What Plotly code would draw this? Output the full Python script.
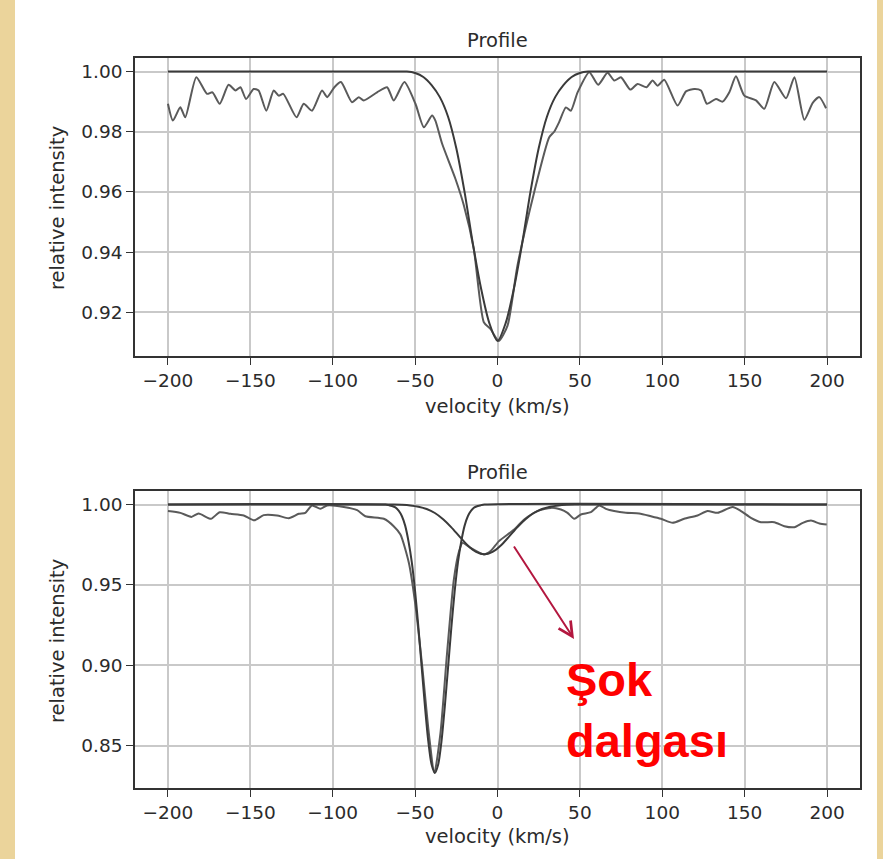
import plotly.graph_objects as go

W, H = 883, 859

# ---------------- data: top panel ----------------
top_obs_v = [-200, -197, -192.5, -189.5, -182.8, -176.3, -173, -168.6, -163.2, -159, -156, -152.6,
             -148, -145, -140.3, -135.8, -132.8, -130, -122, -117.6, -112.6, -106.5, -103.4, -99,
             -95, -88.3, -84.2, -81.2, -73.1, -67, -63, -56.5, -49.8, -44.7, -39.7, -37.7, -33.6,
             -25.5, -20.4, -14.4, -8.3, -4.3, 0.8, 6.1, 12.1, 22.3, 31.4, 34.4, 37.4, 41.5, 44.5,
             48.6, 55.7, 61.1, 66.8, 70.9, 74.9, 80.6, 85, 90.5, 94.1, 97.2, 101.2, 109.3, 114.4,
             119.4, 123.5, 127.1, 132.6, 136.6, 140.7, 144.7, 149.8, 156.9, 161.9, 168, 175.1,
             180.2, 186.2, 191.3, 195.3, 199.4]
top_obs_i = [0.9893, 0.9837, 0.9881, 0.9848, 0.9981, 0.9926, 0.9931, 0.9893, 0.9956, 0.9937, 0.9948,
             0.9909, 0.9942, 0.9937, 0.9870, 0.9937, 0.9920, 0.9926, 0.9848, 0.9893, 0.9870, 0.9937,
             0.9915, 0.9948, 0.9965, 0.9898, 0.9915, 0.9904, 0.9931, 0.9948, 0.9904, 0.9965, 0.9893,
             0.9815, 0.9854, 0.9837, 0.9760, 0.9643, 0.9555, 0.9411, 0.9167, 0.9145, 0.9105, 0.9156,
             0.9355, 0.9600, 0.9782, 0.9800, 0.9832, 0.9881, 0.9870, 0.9931, 0.9998, 0.9956, 0.9996,
             0.9970, 0.9981, 0.9940, 0.9959, 0.9948, 0.9970, 0.9953, 0.9973, 0.9887, 0.9934, 0.9942,
             0.9937, 0.9893, 0.9909, 0.9900, 0.9931, 0.9984, 0.9920, 0.9904, 0.9876, 0.9965, 0.9911,
             0.9981, 0.9840, 0.9896, 0.9915, 0.9878]

top_fit_v = [-200, -60, -55, -50, -45, -40, -35, -30, -25, -20, -15, -10, -5, 0,
             5, 10, 15, 20, 25, 30, 35, 40, 45, 50, 55, 60, 200]
top_fit_i = [1.0, 1.0, 1.0, 0.9995, 0.9982, 0.9955, 0.9915, 0.9850, 0.9745, 0.9600, 0.9430, 0.9280,
             0.9165, 0.9105, 0.9165, 0.9280, 0.9430, 0.9600, 0.9745, 0.9850, 0.9915, 0.9955, 0.9982,
             0.9995, 1.0, 1.0, 1.0]

# ---------------- data: bottom panel ----------------
bot_obs_v = [-200, -192.5, -185.8, -181.4, -173.9, -168.6, -162.1, -154, -147.6, -141.9, -133.8,
             -126.7, -120.6, -116.6, -112.6, -107.5, -103.4, -93.3, -85.2, -80.2, -69, -63, -58.9,
             -53.8, -50, -45.7, -41.7, -38.3, -34.6, -30.6, -26.5, -23.3, -21.2, -16.4, -8.3, -4.2,
             0.9, 10.1, 16.2, 24.3, 32.4, 38.5, 42.5, 46.6, 50.6, 56.7, 61.7, 65.8, 70.8, 77.9, 86,
             93.1, 99.2, 106.3, 113.3, 121.4, 127.5, 133.6, 142.7, 147.8, 153.8, 159.9, 168, 174.1,
             180.2, 185.3, 190.3, 195.4, 199.8]
bot_obs_i = [0.9959, 0.9948, 0.9923, 0.9944, 0.9911, 0.9952, 0.9942, 0.9932, 0.9902, 0.9934, 0.9932,
             0.9915, 0.9942, 0.9948, 0.9994, 0.9973, 0.9994, 0.9985, 0.9965, 0.9927, 0.9911, 0.9865,
             0.9813, 0.9637, 0.9388, 0.8994, 0.8579, 0.8330, 0.8579, 0.9077, 0.9533, 0.9710, 0.9761,
             0.9730, 0.9689, 0.9710, 0.9772, 0.9844, 0.9907, 0.9959, 0.9979, 0.9969, 0.9948, 0.9911,
             0.9938, 0.9952, 0.9994, 0.9973, 0.9959, 0.9948, 0.9944, 0.9927, 0.9911, 0.9886, 0.9911,
             0.9932, 0.9959, 0.9948, 0.9985, 0.9959, 0.9917, 0.9890, 0.9890, 0.9865, 0.9859, 0.9886,
             0.9900, 0.9882, 0.9876]

narrow_v = [-200, -68, -66, -64, -62, -60, -58, -56, -54, -52, -50, -48, -46, -44, -42, -40, -38,
            -36, -34, -32, -30, -28, -26, -24, -22, -20, -18, -16, -14, -12, -10, -8, 200]
narrow_i = [1.0, 1.0, 0.9996, 0.9991, 0.9982, 0.9962, 0.9927, 0.9867, 0.9770, 0.9640, 0.9460, 0.9235,
            0.8987, 0.8740, 0.8526, 0.8382, 0.8330, 0.8382, 0.8526, 0.8740, 0.8987, 0.9235, 0.9460,
            0.9640, 0.9770, 0.9867, 0.9927, 0.9962, 0.9982, 0.9991, 0.9996, 1.0, 1.0]

broad_v = [-200, -63, -58, -53, -48, -43, -38, -33, -28, -23, -18, -13, -8, -3, 2, 7, 12, 17, 22,
           27, 32, 37, 42, 47, 200]
broad_i = [1.0, 1.0, 0.9998, 0.9994, 0.9986, 0.9972, 0.9947, 0.9908, 0.9858, 0.9800, 0.9745, 0.9705,
           0.9690, 0.9705, 0.9745, 0.9800, 0.9858, 0.9908, 0.9947, 0.9972, 0.9986, 0.9994, 0.9998,
           1.0, 1.0]

# ---------------- ticks / labels ----------------
x_tickvals = [-200, -150, -100, -50, 0, 50, 100, 150, 200]
x_ticktext = ["\u2212200", "\u2212150", "\u2212100", "\u221250", "0", "50", "100", "150", "200"]
top_y_tickvals = [0.92, 0.94, 0.96, 0.98, 1.00]
bot_y_tickvals = [0.85, 0.90, 0.95, 1.00]
panel_title = "Profile"
x_title = "velocity (km/s)"
y_title = "relative intensity"
note_text = "Şok<br>dalgası"

FIT = "#3a3a3a"
OBS = "#5a5a5a"
TXT = "#2b2b2b"
FONT = "DejaVu Sans"
FS_TICK = 18.5
FS_LAB = 19.5

fig = go.Figure()
fig.add_trace(go.Scatter(x=top_obs_v, y=top_obs_i, mode="lines", xaxis="x", yaxis="y",
                         line=dict(color=OBS, width=2, shape="spline", smoothing=0.6)))
fig.add_trace(go.Scatter(x=top_fit_v, y=top_fit_i, mode="lines", xaxis="x", yaxis="y",
                         line=dict(color=FIT, width=2, shape="spline", smoothing=0.8)))
fig.add_trace(go.Scatter(x=bot_obs_v, y=bot_obs_i, mode="lines", xaxis="x2", yaxis="y2",
                         line=dict(color=OBS, width=2, shape="spline", smoothing=0.6)))
fig.add_trace(go.Scatter(x=narrow_v, y=narrow_i, mode="lines", xaxis="x2", yaxis="y2",
                         line=dict(color=FIT, width=2, shape="spline", smoothing=0.8)))
fig.add_trace(go.Scatter(x=broad_v, y=broad_i, mode="lines", xaxis="x2", yaxis="y2",
                         line=dict(color=FIT, width=2, shape="spline", smoothing=0.8)))

xl, xr = 135 / W, 860 / W
top_dom = [1 - 356 / H, 1 - 58 / H]
bot_dom = [1 - 788 / H, 1 - 491 / H]

ax_common = dict(showline=True, mirror=True, linecolor="#333333", linewidth=1.5,
                 ticks="outside", ticklen=7, tickwidth=1.3, tickcolor="#333333",
                 showgrid=True, gridcolor="#c9c9c9", gridwidth=1.5, zeroline=False,
                 tickfont=dict(family=FONT, size=FS_TICK, color=TXT), automargin=False)

fig.update_layout(
    width=W, height=H,
    margin=dict(l=0, r=0, t=0, b=0),
    paper_bgcolor="#EBD49B",
    plot_bgcolor="white",
    showlegend=False,
    xaxis=dict(domain=[xl, xr], range=[-220, 220], anchor="y", tickvals=x_tickvals,
               ticktext=x_ticktext, **ax_common),
    yaxis=dict(domain=top_dom, range=[0.9055, 1.0045], anchor="x", tickvals=top_y_tickvals,
               tickformat=".2f", **ax_common),
    xaxis2=dict(domain=[xl, xr], range=[-220, 220], anchor="y2", tickvals=x_tickvals,
                ticktext=x_ticktext, **ax_common),
    yaxis2=dict(domain=bot_dom, range=[0.8236, 1.0084], anchor="x2", tickvals=bot_y_tickvals,
                tickformat=".2f", **ax_common),
    shapes=[dict(type="rect", xref="paper", yref="paper", x0=15 / W, x1=877 / W, y0=-0.01, y1=1.01,
                 fillcolor="white", line=dict(width=0), layer="below")],
)

cx = (135 + 860) / 2 / W
anns = [
    dict(text=panel_title, x=cx, y=1 - 40 / H),
    dict(text=panel_title, x=cx, y=1 - 472 / H),
    dict(text=x_title, x=cx, y=1 - 406 / H),
    dict(text=x_title, x=cx, y=1 - 836 / H),
    dict(text=y_title, x=57 / W, y=1 - 208 / H, textangle=-90),
    dict(text=y_title, x=57 / W, y=1 - 641 / H, textangle=-90),
]
for a in anns:
    fig.add_annotation(xref="paper", yref="paper", showarrow=False, xanchor="center",
                       yanchor="middle", font=dict(family=FONT, size=FS_LAB, color=TXT), **a)

# arrow
fig.add_annotation(xref="paper", yref="paper", x=574 / W, y=1 - 639 / H, ax=-61, ay=-94,
                   axref="pixel", ayref="pixel", text="", showarrow=True, arrowhead=5,
                   arrowsize=1.4, arrowwidth=2, arrowcolor="#B3173F")
# red note
fig.add_annotation(xref="paper", yref="paper", x=564 / W, y=1 - 710 / H, xanchor="left",
                   yanchor="middle", align="left", showarrow=False, text=note_text,
                   font=dict(family="Liberation Sans", size=47, color="#FF0000", weight="bold"))

fig.write_html("out.html",
               config={"displayModeBar": False},
               post_script="document.body.style.margin='0';document.body.style.overflow='hidden';"
                           "document.body.style.background='#EBD49B';")
